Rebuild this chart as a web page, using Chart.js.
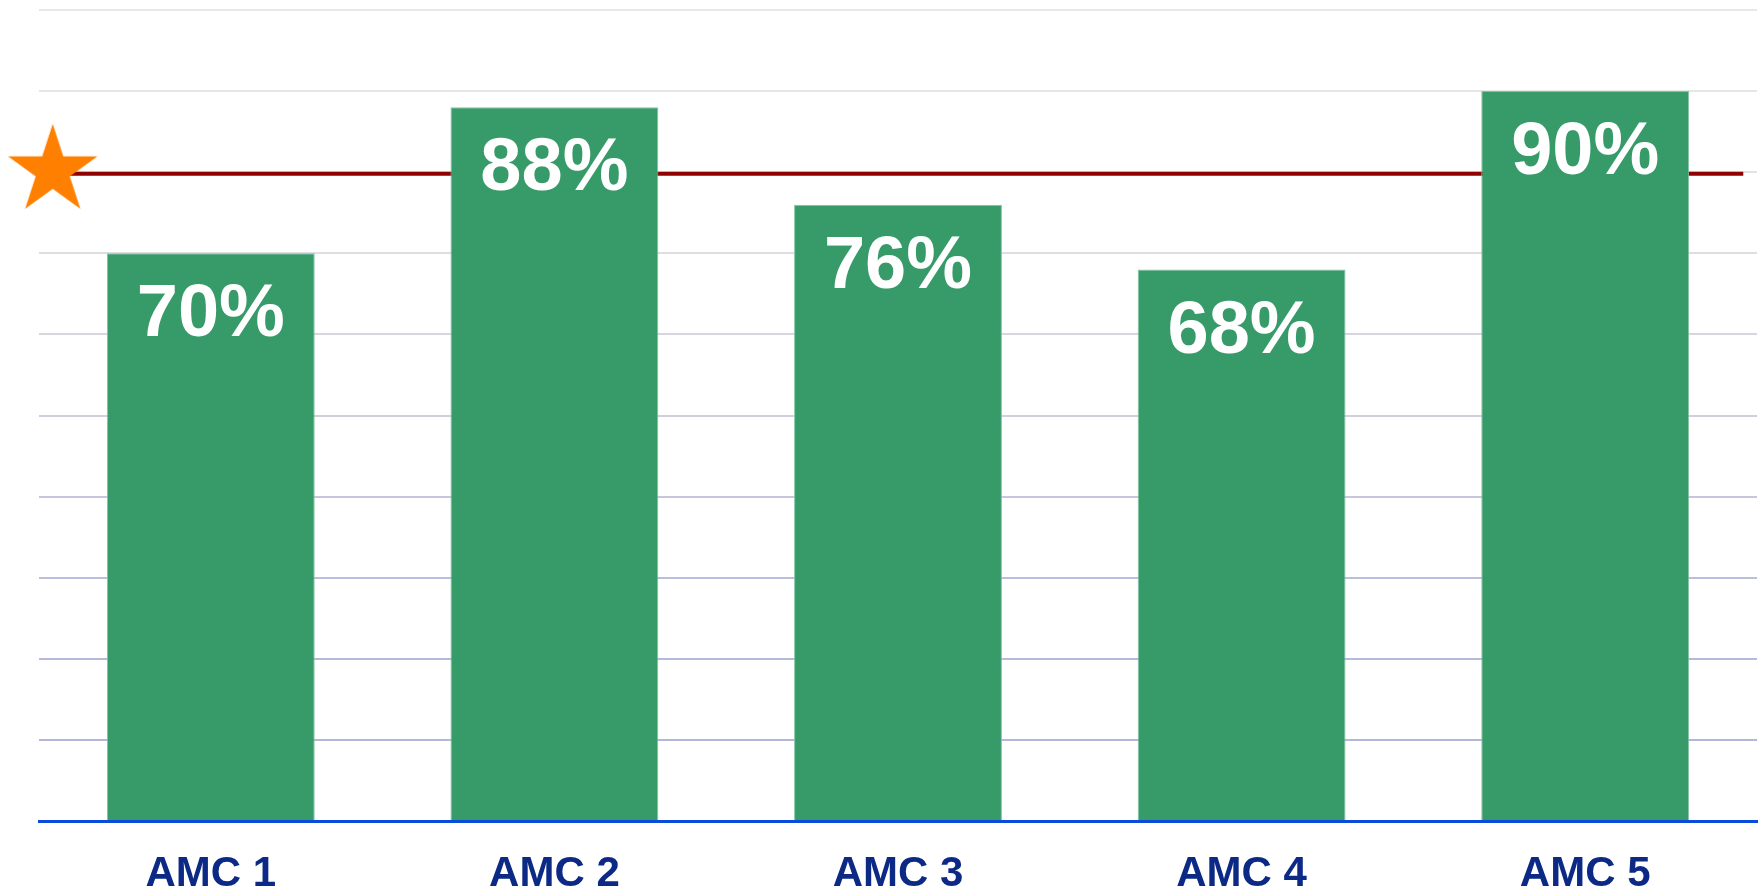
<!DOCTYPE html>
<html>
<head>
<meta charset="utf-8">
<script src="https://cdn.jsdelivr.net/npm/chart.js@4.4.1/dist/chart.umd.min.js"></script>
<style>
  body { margin: 0; background: #ffffff; }
  #wrap { width: 1759px; height: 891px; }
</style>
</head>
<body>
<div id="wrap"><canvas id="chart" width="1759" height="891"></canvas></div>
<script>
const categories = ['AMC 1', 'AMC 2', 'AMC 3', 'AMC 4', 'AMC 5']
const scores = [70, 88, 76, 68, 90]
const targetValue = 79.8
// the target line runs from the star near the left edge to just short of the right edge (category units)
const targetStart = 0.04
const targetEnd = 4.96
const yMin = 0
const yMax = 100
const yStep = 10

const barColor = '#379a69'
const barEdge = '#86c2a2'
const targetColor = '#8f0000'
const starColor = '#ff8000'
const axisColor = '#0b4bdc'
const labelColor = '#0c2a85'
// grid fades from lavender at the bottom to light grey at the top
const gridColors = ['rgba(0,0,0,0)', '#b2b7db', '#b5b9db', '#bbbfdc', '#c6c7dc', '#cfcfdd', '#d6d6df', '#dedee2', '#e3e3e4', '#e6e6e6', '#e8e8e8']

function makeStar(size, r, color) {
  const c = document.createElement('canvas')
  c.width = size
  c.height = size
  const g = c.getContext('2d')
  const cx = size / 2
  const cy = size / 2 - 3
  g.beginPath()
  for (let i = 0; i < 10; i++) {
    const rad = i % 2 === 0 ? r : r * 0.382
    const a = -Math.PI / 2 + i * Math.PI / 5
    g.lineTo(cx + rad * Math.cos(a), cy + rad * Math.sin(a))
  }
  g.closePath()
  g.fillStyle = color
  g.fill()
  return c
}
const star = makeStar(100, 47, starColor)

// white percentage labels inside the bars
const barLabels = {
  id: 'barLabels',
  afterDatasetsDraw(chart) {
    const meta = chart.getDatasetMeta(0)
    const ctx = chart.ctx
    ctx.save()
    ctx.fillStyle = '#ffffff'
    ctx.font = 'bold 74px "Liberation Sans", Arial, sans-serif'
    ctx.textAlign = 'center'
    ctx.textBaseline = 'alphabetic'
    meta.data.forEach((bar, i) => {
      ctx.fillText(scores[i] + '%', bar.x, bar.y + 83)
    })
    ctx.restore()
  },
}

const ctx = document.getElementById('chart').getContext('2d')
new Chart(ctx, {
  type: 'bar',
  data: {
    labels: categories,
    datasets: [
      {
        type: 'bar',
        data: scores,
        backgroundColor: barColor,
        borderColor: barEdge,
        borderWidth: 1,
        grouped: false,
        categoryPercentage: 1,
        barPercentage: 0.605,
        order: 0,
      },
      {
        type: 'line',
        xAxisID: 'xLine',
        data: [
          { x: targetStart, y: targetValue },
          { x: targetEnd, y: targetValue },
        ],
        borderColor: targetColor,
        borderWidth: 4,
        clip: false,
        pointStyle: (c) => (c.dataIndex === 0 ? star : 'circle'),
        pointRadius: (c) => (c.dataIndex === 0 ? 20 : 0),
        pointHoverRadius: (c) => (c.dataIndex === 0 ? 20 : 0),
        order: 1,
      },
    ],
  },
  options: {
    responsive: false,
    animation: false,
    events: [],
    layout: {
      autoPadding: false,
      padding: { top: 10, left: 39, right: 2, bottom: 0 },
    },
    plugins: {
      legend: { display: false },
      tooltip: { enabled: false },
    },
    scales: {
      x: {
        grid: { display: false },
        border: { display: true, color: axisColor, width: 3 },
        ticks: {
          color: labelColor,
          padding: 20,
          font: { family: '"Liberation Sans", Arial, sans-serif', size: 42, weight: 'bold' },
        },
        afterFit: (scale) => {
          scale.height = 70
        },
      },
      xLine: {
        type: 'linear',
        display: false,
        offset: false,
        min: 0,
        max: 5,
      },
      y: {
        min: yMin,
        max: yMax,
        ticks: { display: false, stepSize: yStep },
        border: { display: false },
        grid: {
          drawTicks: false,
          lineWidth: 2,
          color: (c) => gridColors[c.index] || '#e6e6e6',
        },
        afterFit: (scale) => {
          scale.width = 0
        },
      },
    },
  },
  plugins: [barLabels],
})
</script>
</body>
</html>
